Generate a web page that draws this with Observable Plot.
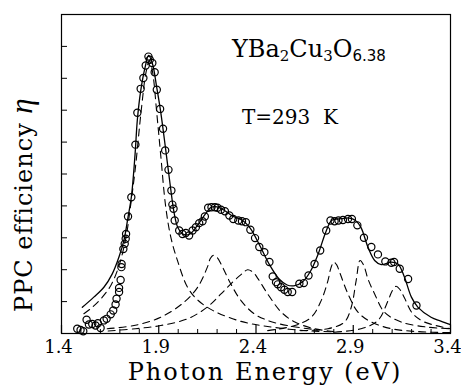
<!DOCTYPE html>
<html>
<head>
<meta charset="utf-8">
<script src="https://cdn.jsdelivr.net/npm/d3@7"></script>
<script src="https://cdn.jsdelivr.net/npm/@observablehq/plot@0.6"></script>
<style>
  html, body { margin: 0; padding: 0; background: #fff; }
  #chart { width: 461px; height: 387px; }
</style>
</head>
<body>
<div id="chart"></div>
<script>
// Measured PPC efficiency (open circles)
const dataE = [1.481,1.498,1.512,1.529,1.541,1.558,1.575,1.587,1.601,1.618,1.632,1.653,1.666,1.678,1.683,1.696,1.696,1.704,1.708,1.709,1.718,1.725,1.730,1.732,1.742,1.759,1.780,1.790,1.807,1.821,1.833,1.847,1.854,1.867,1.879,1.890,1.907,1.922,1.933,1.950,1.965,1.970,1.976,1.982,2.005,2.022,2.039,2.056,2.074,2.091,2.108,2.125,2.137,2.154,2.171,2.189,2.202,2.220,2.240,2.263,2.283,2.309,2.328,2.348,2.371,2.395,2.417,2.443,2.469,2.486,2.503,2.512,2.529,2.546,2.563,2.586,2.623,2.646,2.670,2.701,2.730,2.761,2.783,2.804,2.824,2.847,2.873,2.893,2.921,2.955,2.993,3.027,3.065,3.096,3.110,3.139,3.182,3.225];
const dataEta = [0.15,0.11,0.07,0.43,0.28,0.30,0.25,0.32,0.17,0.41,0.46,0.60,0.72,0.91,1.09,1.30,1.43,1.68,2.08,2.18,2.65,2.81,2.97,3.12,3.67,4.27,5.92,6.92,7.67,8.01,8.40,8.68,8.58,8.48,8.19,7.64,7.04,6.42,5.74,5.13,4.48,4.04,3.91,3.54,3.23,3.12,3.15,3.07,3.23,3.33,3.46,3.52,3.67,3.94,3.96,3.96,3.94,3.88,3.83,3.70,3.59,3.54,3.52,3.49,3.25,2.99,2.71,2.55,2.24,1.79,1.61,1.54,1.45,1.37,1.30,1.30,1.56,1.58,1.82,2.18,2.60,3.23,3.54,3.52,3.54,3.56,3.59,3.59,3.39,3.00,2.71,2.48,2.26,2.22,2.24,2.03,1.71,0.88];

// Total fit (solid line)
const fitE = [1.507,1.566,1.618,1.661,1.695,1.721,1.742,1.759,1.778,1.790,1.807,1.830,1.848,1.868,1.890,1.910,1.935,1.960,1.980,2.000,2.030,2.060,2.100,2.140,2.170,2.200,2.240,2.280,2.330,2.370,2.420,2.470,2.520,2.560,2.600,2.640,2.680,2.720,2.760,2.790,2.840,2.880,2.910,2.940,2.976,3.010,3.044,3.096,3.130,3.163,3.199,3.233,3.300,3.350,3.400];
const fitEta = [0.82,1.14,1.45,1.87,2.39,2.92,3.65,4.27,5.60,6.70,7.60,8.35,8.72,8.45,7.70,6.95,5.80,4.60,3.75,3.30,3.10,3.12,3.40,3.75,3.96,3.97,3.85,3.68,3.55,3.30,2.75,2.15,1.70,1.52,1.50,1.62,1.95,2.50,3.20,3.55,3.60,3.62,3.55,3.32,2.70,2.29,2.16,2.24,2.18,1.77,1.14,0.82,0.51,0.39,0.28];

// Component peaks (dashed lines)
const p1E = [1.515,1.558,1.610,1.653,1.687,1.713,1.735,1.752,1.780,1.810,1.835,1.852,1.868,1.890,1.910,1.936,1.962,1.996,2.048,2.100,2.185,2.323,2.460,2.630,2.800];
const p1Eta = [0.62,0.82,1.14,1.50,1.97,2.50,3.13,3.86,5.20,7.00,8.20,8.55,8.20,6.90,5.60,3.96,3.02,2.29,1.45,1.05,0.70,0.38,0.22,0.10,0.05];
const p2E = [1.635,1.773,1.910,2.030,2.100,2.150,2.165,2.180,2.200,2.220,2.270,2.323,2.390,2.460,2.560,2.718];
const p2Eta = [0.15,0.25,0.51,0.98,1.45,2.08,2.35,2.45,2.38,2.18,1.56,1.03,0.62,0.41,0.25,0.11];
const p3E = [1.640,1.780,1.910,2.048,2.150,2.220,2.288,2.330,2.357,2.385,2.410,2.460,2.530,2.600,2.700,2.800];
const p3Eta = [0.08,0.15,0.25,0.46,0.83,1.24,1.66,1.88,2.00,1.92,1.72,1.24,0.67,0.36,0.15,0.06];
const p4E = [2.460,2.600,2.684,2.735,2.770,2.785,2.800,2.815,2.830,2.873,2.924,2.993,3.096,3.230,3.400];
const p4Eta = [0.09,0.25,0.51,1.03,1.66,2.05,2.24,2.15,1.92,1.24,0.67,0.36,0.15,0.06,0.03];
const p5E = [2.630,2.770,2.855,2.890,2.915,2.935,2.955,2.975,3.010,3.060,3.146,3.280,3.400];
const p5Eta = [0.09,0.15,0.36,0.83,1.66,2.29,2.12,1.72,1.24,0.67,0.36,0.20,0.15];
const p6E = [2.804,2.940,3.027,3.079,3.100,3.120,3.140,3.163,3.206,3.266,3.400];
const p6Eta = [0.04,0.15,0.41,1.03,1.33,1.48,1.38,1.12,0.62,0.36,0.15];

// Axis ticks
const xMajor = [1.4, 1.9, 2.4, 2.9, 3.4];
const xMinor = [1.5,1.6,1.7,1.8,2.0,2.1,2.2,2.3,2.5,2.6,2.7,2.8,3.0,3.1,3.2,3.3];
const yTicks = [1,2,3,4,5,6,7,8,9];

const pts = (xs, ys) => xs.map((x, i) => ({x, y: ys[i]}));
const dashStyle = {x: "x", y: "y", stroke: "black", strokeWidth: 1.1, strokeDasharray: "7,5", curve: "catmull-rom"};
const serif = "DejaVu Serif";

const chart = Plot.plot({
  width: 461,
  height: 387,
  marginLeft: 61,
  marginRight: 11,
  marginTop: 14,
  marginBottom: 54,
  x: {domain: [1.4, 3.4], axis: null},
  y: {domain: [0, 10], axis: null},
  marks: [
    Plot.frame({stroke: "black", strokeWidth: 1.2}),
    Plot.tickX(xMinor, {x: d => d, insetTop: 315, stroke: "black", strokeWidth: 1}),
    Plot.tickX(xMajor, {x: d => d, insetTop: 311, stroke: "black", strokeWidth: 1.2}),
    Plot.tickY(yTicks, {y: d => d, insetRight: 383, stroke: "black", strokeWidth: 1}),
    Plot.text(xMajor, {x: d => d, y: () => 0, text: d => d.toFixed(1), dx: -3, dy: 7, lineAnchor: "top", fontSize: 18, fontFamily: serif, fill: "black"}),
    Plot.line(pts(p1E, p1Eta), dashStyle),
    Plot.line(pts(p2E, p2Eta), dashStyle),
    Plot.line(pts(p3E, p3Eta), dashStyle),
    Plot.line(pts(p4E, p4Eta), dashStyle),
    Plot.line(pts(p5E, p5Eta), dashStyle),
    Plot.line(pts(p6E, p6Eta), dashStyle),
    Plot.line(pts(fitE, fitEta), {x: "x", y: "y", stroke: "black", strokeWidth: 1.3, curve: "catmull-rom"}),
    Plot.dot(pts(dataE, dataEta), {x: "x", y: "y", r: 3.6, stroke: "black", strokeWidth: 1.2, fill: "none"})
  ]
});

const svg = d3.select(chart);
svg.style("background", "white");

// x axis title
svg.append("text")
  .attr("x", 265).attr("y", 380)
  .attr("text-anchor", "middle")
  .attr("font-family", serif).attr("font-size", 24)
  .attr("letter-spacing", 2)
  .attr("fill", "black")
  .text("Photon Energy (eV)");

// y axis title
const yl = svg.append("text")
  .attr("transform", "translate(32,312) rotate(-90)")
  .attr("text-anchor", "start")
  .attr("font-family", serif).attr("font-size", 24)
  .attr("letter-spacing", 1)
  .attr("fill", "black");
yl.append("tspan").text("PPC efficiency ");
yl.append("tspan").attr("font-family", "Liberation Serif").attr("font-style", "italic").attr("font-size", 31).text("η");

// formula label
const f = svg.append("text")
  .attr("x", 232).attr("y", 57)
  .attr("text-anchor", "start")
  .attr("font-family", serif).attr("font-size", 24)
  .attr("fill", "black");
f.append("tspan").text("YBa");
f.append("tspan").attr("font-size", 15).attr("dy", 4).text("2");
f.append("tspan").attr("dy", -4).text("Cu");
f.append("tspan").attr("font-size", 15).attr("dy", 4).text("3");
f.append("tspan").attr("dy", -4).text("O");
f.append("tspan").attr("font-size", 15).attr("dy", 4).attr("font-family", "DejaVu Sans").text("6.38");

// temperature label
svg.append("text")
  .attr("x", 242).attr("y", 124)
  .attr("text-anchor", "start")
  .attr("font-family", serif).attr("font-size", 20)
  .attr("fill", "black")
  .attr("xml:space", "preserve")
  .style("white-space", "pre")
  .text("T=293  K");

document.getElementById("chart").appendChild(chart);
</script>
</body>
</html>
